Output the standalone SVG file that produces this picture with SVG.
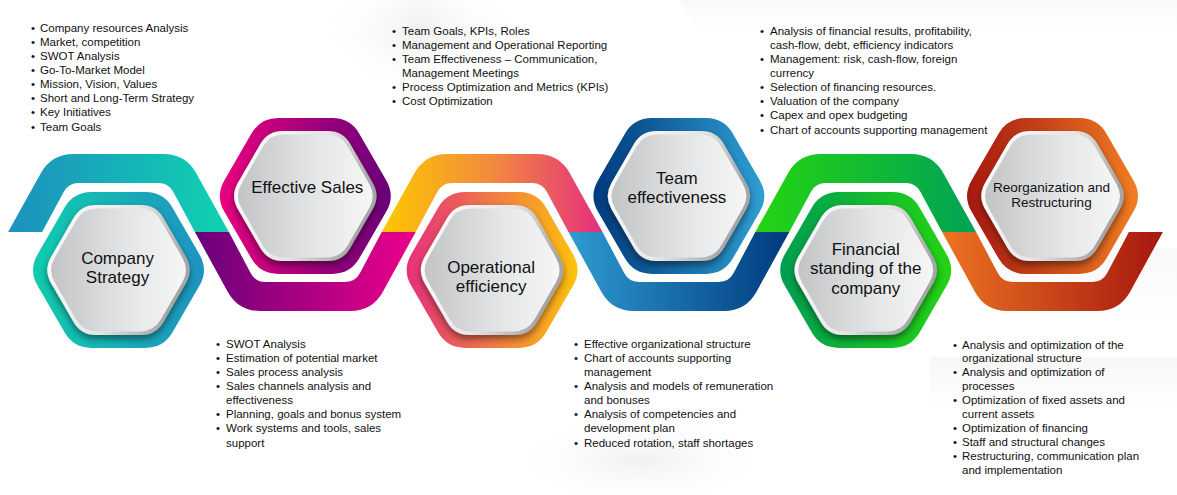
<svg xmlns="http://www.w3.org/2000/svg" width="1177" height="495" viewBox="0 0 1177 495">
<style>
.lbl{font-family:"Liberation Sans",Arial,sans-serif;font-size:17px;fill:#111;text-anchor:middle}
.lbs{font-family:"Liberation Sans",Arial,sans-serif;font-size:13.5px;fill:#111;text-anchor:middle}
.t{font-family:"Liberation Sans",Arial,sans-serif;font-size:11.5px;fill:#111}
</style>
<defs>
<path id="hexO" d="M81,15.59 L54,62.35 Q45,77.94 27,77.94 L-27,77.94 Q-45,77.94 -54,62.35 L-81,15.59 Q-90,0 -81,-15.59 L-54,-62.35 Q-45,-77.94 -27,-77.94 L27,-77.94 Q45,-77.94 54,-62.35 L81,-15.59 Q90,0 81,15.59 Z"/>
<path id="hexB" d="M67.5,12.99 L45,51.96 Q37.5,64.95 22.5,64.95 L-22.5,64.95 Q-37.5,64.95 -45,51.96 L-67.5,12.99 Q-75,0 -67.5,-12.99 L-45,-51.96 Q-37.5,-64.95 -22.5,-64.95 L22.5,-64.95 Q37.5,-64.95 45,-51.96 L67.5,-12.99 Q75,0 67.5,12.99 Z"/>
<path id="hexF" d="M64,12.12 L42.5,49.37 Q35.5,61.49 21.5,61.49 L-21.5,61.49 Q-35.5,61.49 -42.5,49.37 L-64,12.12 Q-71,0 -64,-12.12 L-42.5,-49.37 Q-35.5,-61.49 -21.5,-61.49 L21.5,-61.49 Q35.5,-61.49 42.5,-49.37 L64,-12.12 Q71,0 64,12.12 Z"/>
<path id="arch" d="M-110.4,232 L-77.7,173.2 Q-67,154 -45,154 L45,154 Q67,154 77.7,173.2 L110.4,232 L76.4,232 L54.7,191.8 Q50,183 40,183 L-40,183 Q-50,183 -54.7,191.8 L-76.4,232 Z"/>
<path id="cup" d="M-110.4,232 L-77.6,291.7 Q-67,311 -45,311 L45,311 Q67,311 77.6,291.7 L110.4,232 L76.4,232 L54.7,273.1 Q50,282 40,282 L-40,282 Q-50,282 -54.7,273.1 L-76.4,232 Z"/>
<linearGradient id="gB" x1="0" y1="0" x2="1" y2="0.3"><stop offset="0" stop-color="#ffffff"/><stop offset="0.6" stop-color="#e6e6e6"/><stop offset="1" stop-color="#a6a6a8"/></linearGradient>
<linearGradient id="gF" x1="0" y1="0" x2="1" y2="0"><stop offset="0" stop-color="#c3c4c6"/><stop offset="0.6" stop-color="#e6e7e8"/><stop offset="1" stop-color="#f6f6f6"/></linearGradient>
<linearGradient id="g1"><stop offset="0" stop-color="#10ccae"/><stop offset="1" stop-color="#1e93c0"/></linearGradient>
<linearGradient id="g2"><stop offset="0" stop-color="#e8007f"/><stop offset="1" stop-color="#690079"/></linearGradient>
<linearGradient id="g3"><stop offset="0" stop-color="#e6307c"/><stop offset="0.5" stop-color="#f07a45"/><stop offset="1" stop-color="#fcc20d"/></linearGradient>
<linearGradient id="g4"><stop offset="0" stop-color="#003a7e"/><stop offset="1" stop-color="#2e9fd3"/></linearGradient>
<linearGradient id="g5"><stop offset="0" stop-color="#009e50"/><stop offset="1" stop-color="#24d314"/></linearGradient>
<linearGradient id="g6"><stop offset="0" stop-color="#a6170f"/><stop offset="1" stop-color="#f07d22"/></linearGradient>
<linearGradient id="r1"><stop offset="0" stop-color="#1d90bf"/><stop offset="1" stop-color="#0fd2b0"/></linearGradient>
<linearGradient id="r2"><stop offset="0" stop-color="#690079"/><stop offset="1" stop-color="#ec008a"/></linearGradient>
<linearGradient id="r3"><stop offset="0" stop-color="#fdc800"/><stop offset="0.5" stop-color="#f28a3e"/><stop offset="1" stop-color="#e42f7e"/></linearGradient>
<linearGradient id="r4"><stop offset="0" stop-color="#2e9bd0"/><stop offset="1" stop-color="#003a7e"/></linearGradient>
<linearGradient id="r5"><stop offset="0" stop-color="#24d412"/><stop offset="1" stop-color="#00a354"/></linearGradient>
<linearGradient id="r6"><stop offset="0" stop-color="#ec7322"/><stop offset="1" stop-color="#a6170f"/></linearGradient>
<linearGradient id="bgH" x1="0" y1="0" x2="0" y2="1"><stop offset="0" stop-color="#f2f2f2"/><stop offset="1" stop-color="#ffffff"/></linearGradient>
<radialGradient id="bgR" cx="0.5" cy="0.5" r="0.6"><stop offset="0" stop-color="#f0f0f0"/><stop offset="1" stop-color="#ffffff" stop-opacity="0"/></radialGradient>
<filter id="sh" x="-20%" y="-20%" width="140%" height="150%"><feDropShadow dx="0" dy="4" stdDeviation="3.5" flood-color="#000" flood-opacity="0.45"/></filter>
</defs>
<rect width="1177" height="495" fill="#ffffff"/>
<g id="background">
<ellipse cx="420" cy="30" rx="90" ry="60" fill="url(#bgR)"/>
<polygon points="680,0 1177,0 1177,30 697,30" fill="url(#bgH)" opacity="0.5"/>
<polygon points="1000,248 1177,248 1177,330 1000,330" fill="url(#bgH)" opacity="0.5"/>
<polygon points="930,357 1177,357 1177,410 930,410" fill="url(#bgH)" opacity="0.6"/>
<ellipse cx="640" cy="460" rx="120" ry="40" fill="url(#bgR)"/>
</g>
<g id="connectors">
<use href="#arch" transform="translate(118.5,0)" fill="url(#r1)"/>
<use href="#cup" transform="translate(305.3,0)" fill="url(#r2)"/>
<use href="#arch" transform="translate(492.1,0)" fill="url(#r3)"/>
<use href="#cup" transform="translate(678.9,0)" fill="url(#r4)"/>
<use href="#arch" transform="translate(865.7,0)" fill="url(#r5)"/>
<use href="#cup" transform="translate(1052.5,0)" fill="url(#r6)"/>
</g>
<g id="node-company-strategy" transform="translate(118.5,270)">
<use href="#hexO" fill="url(#g1)"/>
<use href="#hexB" fill="url(#gB)" filter="url(#sh)"/>
<use href="#hexF" fill="url(#gF)"/>
<text class="lbl" x="-1" y="-6">Company</text>
<text class="lbl" x="-1" y="13">Strategy</text>
</g>
<g id="node-effective-sales" transform="translate(305.3,196)">
<use href="#hexO" fill="url(#g2)"/>
<use href="#hexB" fill="url(#gB)" filter="url(#sh)"/>
<use href="#hexF" fill="url(#gF)"/>
<text class="lbl" x="2" y="-3">Effective Sales</text>
</g>
<g id="node-operational-efficiency" transform="translate(492.1,270)">
<use href="#hexO" fill="url(#g3)"/>
<use href="#hexB" fill="url(#gB)" filter="url(#sh)"/>
<use href="#hexF" fill="url(#gF)"/>
<text class="lbl" x="-1" y="3">Operational</text>
<text class="lbl" x="-1" y="22">efficiency</text>
</g>
<g id="node-team-effectiveness" transform="translate(678.9,196)">
<use href="#hexO" fill="url(#g4)"/>
<use href="#hexB" fill="url(#gB)" filter="url(#sh)"/>
<use href="#hexF" fill="url(#gF)"/>
<text class="lbl" x="-2" y="-12">Team</text>
<text class="lbl" x="-2" y="7">effectiveness</text>
</g>
<g id="node-financial-standing" transform="translate(865.7,270)">
<use href="#hexO" fill="url(#g5)"/>
<use href="#hexB" fill="url(#gB)" filter="url(#sh)"/>
<use href="#hexF" fill="url(#gF)"/>
<text class="lbl" x="0" y="-15">Financial</text>
<text class="lbl" x="0" y="4">standing of the</text>
<text class="lbl" x="0" y="24">company</text>
</g>
<g id="node-reorganization" transform="translate(1052.5,196)">
<use href="#hexO" fill="url(#g6)"/>
<use href="#hexB" fill="url(#gB)" filter="url(#sh)"/>
<use href="#hexF" fill="url(#gF)"/>
<text class="lbs" x="-1" y="-4">Reorganization and</text>
<text class="lbs" x="-1" y="11">Restructuring</text>
</g>
<g id="list-company-strategy">
<text class="t" x="31" y="32">•</text><text class="t" x="40" y="32">Company resources Analysis</text>
<text class="t" x="31" y="46">•</text><text class="t" x="40" y="46">Market, competition</text>
<text class="t" x="31" y="60">•</text><text class="t" x="40" y="60">SWOT Analysis</text>
<text class="t" x="31" y="74">•</text><text class="t" x="40" y="74">Go-To-Market Model</text>
<text class="t" x="31" y="88">•</text><text class="t" x="40" y="88">Mission, Vision, Values</text>
<text class="t" x="31" y="102">•</text><text class="t" x="40" y="102">Short and Long-Term Strategy</text>
<text class="t" x="31" y="116">•</text><text class="t" x="40" y="116">Key Initiatives</text>
<text class="t" x="31" y="131">•</text><text class="t" x="40" y="131">Team Goals</text>
</g>
<g id="list-operational-efficiency">
<text class="t" x="392" y="35">•</text><text class="t" x="402" y="35">Team Goals, KPIs, Roles</text>
<text class="t" x="392" y="49">•</text><text class="t" x="402" y="49">Management and Operational Reporting</text>
<text class="t" x="392" y="63">•</text><text class="t" x="402" y="63">Team Effectiveness – Communication,</text>
<text class="t" x="402" y="77">Management Meetings</text>
<text class="t" x="392" y="91">•</text><text class="t" x="402" y="91">Process Optimization and Metrics (KPIs)</text>
<text class="t" x="392" y="105">•</text><text class="t" x="402" y="105">Cost Optimization</text>
</g>
<g id="list-financial-standing">
<text class="t" x="760" y="35">•</text><text class="t" x="770" y="35">Analysis of financial results, profitability,</text>
<text class="t" x="770" y="49">cash-flow, debt, efficiency indicators</text>
<text class="t" x="760" y="63">•</text><text class="t" x="770" y="63">Management: risk, cash-flow, foreign</text>
<text class="t" x="770" y="77">currency</text>
<text class="t" x="760" y="91">•</text><text class="t" x="770" y="91">Selection of financing resources.</text>
<text class="t" x="760" y="105">•</text><text class="t" x="770" y="105">Valuation of the company</text>
<text class="t" x="760" y="119">•</text><text class="t" x="770" y="119">Capex and opex budgeting</text>
<text class="t" x="760" y="134">•</text><text class="t" x="770" y="134">Chart of accounts supporting management</text>
</g>
<g id="list-effective-sales">
<text class="t" x="216" y="348">•</text><text class="t" x="226" y="348">SWOT Analysis</text>
<text class="t" x="216" y="362">•</text><text class="t" x="226" y="362">Estimation of potential market</text>
<text class="t" x="216" y="376">•</text><text class="t" x="226" y="376">Sales process analysis</text>
<text class="t" x="216" y="390">•</text><text class="t" x="226" y="390">Sales channels analysis and</text>
<text class="t" x="226" y="404">effectiveness</text>
<text class="t" x="216" y="418">•</text><text class="t" x="226" y="418">Planning, goals and bonus system</text>
<text class="t" x="216" y="432">•</text><text class="t" x="226" y="432">Work systems and tools, sales</text>
<text class="t" x="226" y="447">support</text>
</g>
<g id="list-team-effectiveness">
<text class="t" x="574" y="348">•</text><text class="t" x="584" y="348">Effective organizational structure</text>
<text class="t" x="574" y="362">•</text><text class="t" x="584" y="362">Chart of accounts supporting</text>
<text class="t" x="584" y="376">management</text>
<text class="t" x="574" y="390">•</text><text class="t" x="584" y="390">Analysis and models of remuneration</text>
<text class="t" x="584" y="404">and bonuses</text>
<text class="t" x="574" y="418">•</text><text class="t" x="584" y="418">Analysis of competencies and</text>
<text class="t" x="584" y="432">development plan</text>
<text class="t" x="574" y="447">•</text><text class="t" x="584" y="447">Reduced rotation, staff shortages</text>
</g>
<g id="list-reorganization">
<text class="t" x="953" y="349">•</text><text class="t" x="962" y="349">Analysis and optimization of the</text>
<text class="t" x="962" y="362">organizational structure</text>
<text class="t" x="953" y="376">•</text><text class="t" x="962" y="376">Analysis and optimization of</text>
<text class="t" x="962" y="390">processes</text>
<text class="t" x="953" y="404">•</text><text class="t" x="962" y="404">Optimization of fixed assets and</text>
<text class="t" x="962" y="418">current assets</text>
<text class="t" x="953" y="432">•</text><text class="t" x="962" y="432">Optimization of financing</text>
<text class="t" x="953" y="446">•</text><text class="t" x="962" y="446">Staff and structural changes</text>
<text class="t" x="953" y="460">•</text><text class="t" x="962" y="460">Restructuring, communication plan</text>
<text class="t" x="962" y="474">and implementation</text>
</g>
</svg>
